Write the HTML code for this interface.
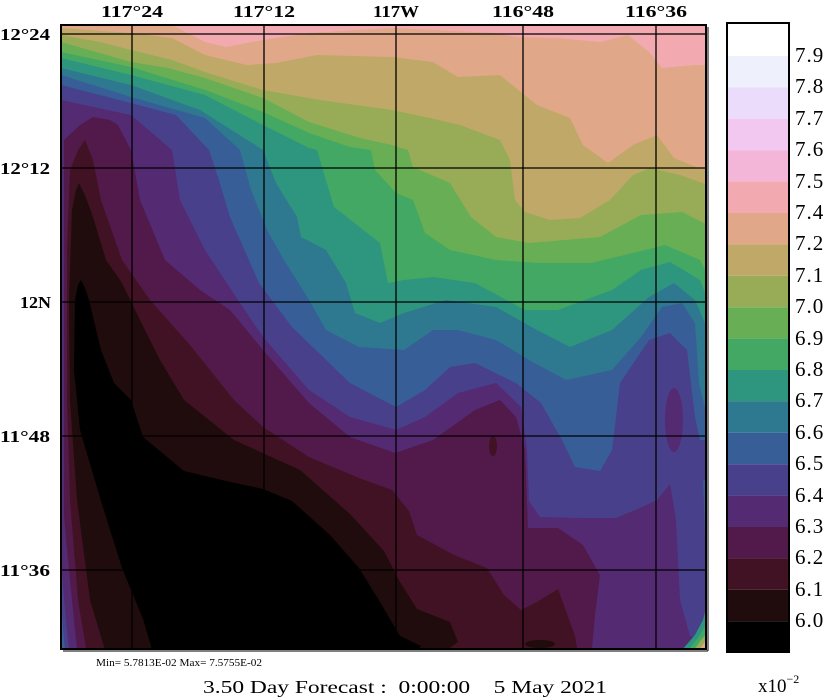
<!DOCTYPE html>
<html><head><meta charset="utf-8"><style>
html,body{margin:0;padding:0;background:#fff;}
svg{display:block;}
text{font-family:"Liberation Serif",serif;fill:#000;}
.ax{font-size:17px;font-weight:bold;}
.cb{font-size:21px;letter-spacing:1px;}
</style></head><body>
<svg width="827" height="697" viewBox="0 0 827 697" xmlns="http://www.w3.org/2000/svg">
<defs><clipPath id="c"><rect x="61" y="25" width="646" height="625"/></clipPath></defs>
<g clip-path="url(#c)">
<rect x="55" y="20" width="660" height="640" fill="#542a72"/>
<polygon fill="#48408a" points="61,100 131,115 172,150 180,200 205,250 238,300 263,337 309,390 350,417 396,430 425,417 458,393 496,383 521,407 527,450 529,501 540,517 580,518 616,518 640,508 657,500 670,484 676,520 680,600 690,636 708,640 712,640 712,20 61,20"/>
<ellipse cx="674" cy="420" rx="9" ry="32" fill="#542a72"/>
<polygon fill="#385e98" points="61,85 131,103 176,115 209,150 218,177 230,217 259,283 292,327 350,383 396,407 425,390 450,367 475,363 516,383 541,403 558,433 562,440 575,467 600,471 612,450 616,417 620,383 649,340 670,333 687,350 695,417 700,440 708,500 712,500 712,20 61,20"/>
<polygon fill="#2e7890" points="61,75 131,97 205,118 240,150 251,190 267,230 284,260 309,300 326,330 359,347 404,350 433,330 458,330 496,340 529,360 566,380 612,370 641,337 662,307 682,303 695,323 699,383 708,420 712,420 712,20 61,20"/>
<polygon fill="#2e967e" points="61,68 131,85 200,110 263,150 276,183 297,217 301,237 326,250 346,283 355,313 380,323 404,313 446,300 496,307 537,330 570,347 612,330 649,297 674,283 695,300 708,330 712,330 712,20 61,20"/>
<polygon fill="#42a864" points="61,58 131,75 205,95 263,125 309,148 317,150 334,207 380,243 388,283 404,280 433,277 475,283 525,310 558,310 612,290 641,270 670,262 700,280 708,300 712,300 712,20 61,20"/>
<polygon fill="#68ae54" points="61,52 131,67 205,90 263,112 309,133 350,147 371,150 375,170 396,193 413,200 425,233 450,250 496,260 537,263 591,263 633,253 665,245 700,260 708,275 712,275 712,20 61,20"/>
<polygon fill="#98ac58" points="61,42 131,62 168,68 205,78 263,98 309,122 360,138 392,145 408,150 413,167 450,183 471,217 496,237 529,243 600,237 641,215 682,212 708,225 712,225 712,20 61,20"/>
<polygon fill="#c0a868" points="61,35 100,42 131,50 172,60 205,72 240,83 263,90 320,100 392,110 430,118 460,125 500,140 510,160 515,200 525,212 550,220 580,218 610,200 633,175 650,168 680,175 708,185 712,185 712,20 61,20"/>
<polygon fill="#e0a888" points="61,28 131,33 172,38 205,55 247,65 276,63 317,55 392,57 433,62 458,77 500,75 516,88 537,105 570,118 583,145 608,163 633,145 657,135 674,158 699,168 712,170 712,20 61,20"/>
<polygon fill="#f2aab0" points="61,20 61,25 172,25 205,42 226,47 263,40 309,33 392,28 496,33 516,37 558,38 600,42 628,35 649,52 662,68 695,65 712,65 712,20"/>
<polygon fill="#521a4a" points="64,140 80,125 93,117 110,120 118,125 131,150 140,200 165,260 200,290 230,310 263,350 309,403 350,437 395,453 433,440 475,410 500,400 516,417 525,450 528,528 558,528 583,545 600,575 595,615 591,660 64,660"/>
<polygon fill="#401224" points="70,170 78,150 85,140 93,160 101,200 122,260 150,300 190,345 234,400 263,427 309,457 359,478 392,490 409,511 417,535 454,555 487,568 504,595 521,610 537,602 558,589 575,636 579,660 88,660 78,600 70,500 67,400 67,250"/>
<ellipse cx="493" cy="446" rx="4" ry="10" fill="#401224"/>
<polygon fill="#200c0c" points="72,210 76,190 79,183 85,195 93,217 106,260 122,283 140,320 160,360 184,400 234,440 300,470 350,514 384,551 400,582 417,609 450,622 458,642 440,655 108,660 90,600 77,500 70,400 69,300"/>
<ellipse cx="540" cy="644" rx="15" ry="4" fill="#200c0c"/>
<polygon fill="#000" points="75,300 78,285 81,280 85,288 89,300 101,350 114,383 131,400 143,437 184,471 226,481 263,489 292,501 330,535 359,568 380,602 400,636 421,646 410,660 155,660 151,646 143,619 122,568 101,501 80,430 74,370"/>
<polygon fill="#542a72" points="61,480 66,540 72,600 78,660 61,660"/>
<polygon fill="#48408a" points="61,560 65,610 70,660 61,660"/>
<polygon fill="#385e98" points="61,600 64,640 66,660 61,660"/>
<polygon fill="#2e967e" points="61,630 63,660 61,660"/>
<polygon fill="#48408a" points="700,440 704,520 703,600 698,630 708,640 708,440"/>
<polygon fill="#385e98" points="703,480 706,560 706,620 700,640 708,645 708,480"/>
<polygon fill="#2e967e" points="682,650 695,635 703,620 708,600 708,650"/>
<polygon fill="#42a864" points="688,650 698,638 704,628 708,620 708,650"/>
<polygon fill="#98ac58" points="694,650 701,640 708,632 708,650"/>
<polygon fill="#e0a888" points="699,650 704,643 708,640 708,650"/>
<polygon fill="#f2aab0" points="703,650 708,645 708,650"/>
<g stroke="#000" stroke-width="1.3">
<line x1="132" y1="25" x2="132" y2="650"/>
<line x1="264" y1="25" x2="264" y2="650"/>
<line x1="396" y1="25" x2="396" y2="650"/>
<line x1="523" y1="25" x2="523" y2="650"/>
<line x1="656" y1="25" x2="656" y2="650"/>
<line x1="61" y1="34" x2="708" y2="34"/>
<line x1="61" y1="168" x2="708" y2="168"/>
<line x1="61" y1="302" x2="708" y2="302"/>
<line x1="61" y1="436" x2="708" y2="436"/>
<line x1="61" y1="570" x2="708" y2="570"/>
</g>
</g>
<rect x="61" y="25" width="645" height="624" fill="none" stroke="#000" stroke-width="2"/>
<line x1="708" y1="27" x2="708" y2="651" stroke="#000" stroke-width="1"/>
<line x1="63" y1="651" x2="708" y2="651" stroke="#000" stroke-width="1"/>

<g class="ax">
<text x="101" y="17" textLength="62" lengthAdjust="spacingAndGlyphs">117°24</text>
<text x="233" y="17" textLength="62" lengthAdjust="spacingAndGlyphs">117°12</text>
<text x="373" y="17" textLength="46" lengthAdjust="spacingAndGlyphs">117W</text>
<text x="492" y="17" textLength="62" lengthAdjust="spacingAndGlyphs">116°48</text>
<text x="625" y="17" textLength="62" lengthAdjust="spacingAndGlyphs">116°36</text>
<text x="0" y="40" textLength="50" lengthAdjust="spacingAndGlyphs">12°24</text>
<text x="0" y="174" textLength="50" lengthAdjust="spacingAndGlyphs">12°12</text>
<text x="20" y="308" style="font-size:17px;font-weight:bold;" textLength="31" lengthAdjust="spacingAndGlyphs">12N</text>
<text x="0" y="442" textLength="50" lengthAdjust="spacingAndGlyphs">11°48</text>
<text x="0" y="576" textLength="50" lengthAdjust="spacingAndGlyphs">11°36</text>
</g>

<g>
<rect x="727" y="23" width="62" height="33" fill="#ffffff"/>
<rect x="727" y="56" width="62" height="31.4" fill="#eef0fc"/>
<rect x="727" y="87.4" width="62" height="31.4" fill="#ecdcfc"/>
<rect x="727" y="118.8" width="62" height="31.4" fill="#f2c8f0"/>
<rect x="727" y="150.2" width="62" height="31.4" fill="#f4b6d8"/>
<rect x="727" y="181.6" width="62" height="31.4" fill="#f2aab0"/>
<rect x="727" y="213" width="62" height="31.4" fill="#e0a888"/>
<rect x="727" y="244.4" width="62" height="31.4" fill="#c0a868"/>
<rect x="727" y="275.8" width="62" height="31.4" fill="#98ac58"/>
<rect x="727" y="307.2" width="62" height="31.4" fill="#68ae54"/>
<rect x="727" y="338.6" width="62" height="31.4" fill="#42a864"/>
<rect x="727" y="370" width="62" height="31.4" fill="#2e967e"/>
<rect x="727" y="401.4" width="62" height="31.4" fill="#2e7890"/>
<rect x="727" y="432.8" width="62" height="31.4" fill="#385e98"/>
<rect x="727" y="464.2" width="62" height="31.4" fill="#48408a"/>
<rect x="727" y="495.6" width="62" height="31.4" fill="#542a72"/>
<rect x="727" y="527" width="62" height="31.4" fill="#521a4a"/>
<rect x="727" y="558.4" width="62" height="31.4" fill="#401224"/>
<rect x="727" y="589.8" width="62" height="31.4" fill="#200c0c"/>
<rect x="727" y="621.2" width="62" height="30.8" fill="#000"/>
<rect x="727" y="23" width="62" height="629" fill="none" stroke="#000" stroke-width="2"/>
</g>
<g class="cb">
<text x="795" y="62">7.9</text>
<text x="795" y="93">7.8</text>
<text x="795" y="125">7.7</text>
<text x="795" y="156">7.6</text>
<text x="795" y="188">7.5</text>
<text x="795" y="219">7.4</text>
<text x="795" y="250">7.2</text>
<text x="795" y="282">7.1</text>
<text x="795" y="313">7.0</text>
<text x="795" y="345">6.9</text>
<text x="795" y="376">6.8</text>
<text x="795" y="407">6.7</text>
<text x="795" y="439">6.6</text>
<text x="795" y="470">6.5</text>
<text x="795" y="502">6.4</text>
<text x="795" y="533">6.3</text>
<text x="795" y="564">6.2</text>
<text x="795" y="596">6.1</text>
<text x="795" y="627">6.0</text>
</g>
<text x="758" y="692" style="font-size:19px;">x10<tspan dy="-9" style="font-size:12px;">−2</tspan></text>
<text x="96" y="666" style="font-size:11px;" textLength="166" lengthAdjust="spacingAndGlyphs">Min= 5.7813E-02  Max= 7.5755E-02</text>
<text x="203" y="693" style="font-size:18px;white-space:pre;" xml:space="preserve" textLength="404" lengthAdjust="spacingAndGlyphs">3.50 Day Forecast :  0:00:00    5 May 2021</text>
</svg>
</body></html>
